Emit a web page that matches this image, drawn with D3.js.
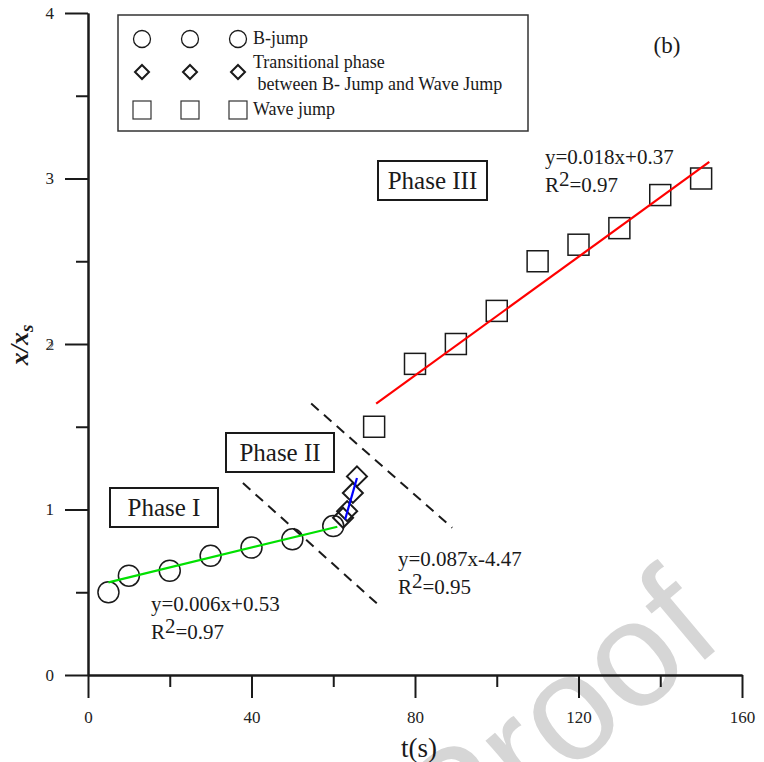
<!DOCTYPE html>
<html>
<head>
<meta charset="utf-8">
<script src="https://cdn.jsdelivr.net/npm/d3@7"></script>
<style>
  body { margin: 0; padding: 0; background: #fff; }
  svg { display: block; font-family: 'Liberation Serif', 'Times New Roman', serif; }
</style>
</head>
<body>
<div id="main"></div>
<script>
// data
const bJumpT = [5, 10, 20, 30, 40, 50, 60];
const bJumpX = [0.50, 0.60, 0.63, 0.72, 0.77, 0.82, 0.90];
const transT = [62.4, 63.4, 64.8, 65.8];
const transX = [0.95, 0.99, 1.10, 1.20];
const waveT = [70, 80, 90, 100, 110, 120, 130, 140, 150];
const waveX = [1.50, 1.88, 2.00, 2.20, 2.50, 2.60, 2.70, 2.90, 3.00];

// fitted lines and phase dividers, as [t, x/xs] end points
const fitB = [[5, 0.56], [61, 0.896]];
const fitTrans = [[62.9, 0.94], [65.8, 1.19]];
const fitWave = [[70.5, 1.64], [152, 3.10]];
const divider1 = [[37.9, 1.16], [71.9, 0.405]];
const divider2 = [[54.6, 1.64], [89.1, 0.89]];

const xMajorTicks = [0, 40, 80, 120, 160];
const xMinorTicks = [20, 60, 100, 140];
const yMajorTicks = [0, 1, 2, 3, 4];
const yMinorTicks = [0.5, 1.5, 2.5, 3.5];

const WIDTH = 764, HEIGHT = 762;
const INK = '#1a1a1a';

const svg = d3.select('#main').append('svg').attr('width', WIDTH).attr('height', HEIGHT);

// watermark behind everything
svg.append('text')
    .attr('transform', 'translate(452,872) rotate(-40)')
    .attr('font-family', "'Liberation Sans', Arial, sans-serif")
    .attr('font-size', 150)
    .attr('fill', '#d6d6d6')
    .text('Proof');

const scaleX = d3.scaleLinear().domain([0, 160]).range([88, 742]);
const scaleY = d3.scaleLinear().domain([0, 4]).range([675, 13]);

const styleAxis = (g) => {
    g.select('.domain').attr('stroke', INK).attr('stroke-width', 2);
    g.selectAll('.tick line').attr('stroke', INK).attr('stroke-width', 2);
    g.selectAll('.tick text').attr('fill', '#222').attr('font-size', 17).attr('font-family', "'Liberation Serif', serif");
};

// minor ticks first, then major with labels
svg.append('g').attr('transform', `translate(0,${scaleY(0)})`)
    .call(d3.axisBottom(scaleX).tickValues(xMinorTicks).tickSize(12).tickSizeOuter(0).tickFormat(''))
    .call(styleAxis);
svg.append('g').attr('transform', `translate(0,${scaleY(0)})`)
    .call(d3.axisBottom(scaleX).tickValues(xMajorTicks).tickSize(23).tickSizeOuter(0).tickPadding(13).tickFormat(d3.format('d')))
    .call(styleAxis);
svg.append('g').attr('transform', `translate(${scaleX(0)},0)`)
    .call(d3.axisLeft(scaleY).tickValues(yMinorTicks).tickSize(12).tickSizeOuter(0).tickFormat(''))
    .call(styleAxis);
svg.append('g').attr('transform', `translate(${scaleX(0)},0)`)
    .call(d3.axisLeft(scaleY).tickValues(yMajorTicks).tickSize(23).tickSizeOuter(0).tickPadding(11).tickFormat(d3.format('d')))
    .call(styleAxis);

// axis titles
svg.append('text')
    .attr('x', 419).attr('y', 757)
    .attr('text-anchor', 'middle')
    .attr('font-size', 27)
    .attr('fill', INK)
    .text('t(s)');

const yTitle = svg.append('text')
    .attr('transform', 'translate(28,345) rotate(-90)')
    .attr('text-anchor', 'middle')
    .attr('font-size', 26)
    .attr('font-weight', 'bold')
    .attr('font-style', 'italic')
    .attr('fill', INK);
yTitle.append('tspan').text('x/x');
yTitle.append('tspan').attr('font-size', 19).attr('dy', 5).text('s');
svg.append('text').attr('x', 51).attr('y', 350).attr('text-anchor', 'middle')
    .attr('font-size', 12).attr('fill', '#444').text('2');

// phase dividers
const line = d3.line().x((d) => scaleX(d[0])).y((d) => scaleY(d[1]));
[divider1, divider2].forEach((d) => {
    svg.append('path').attr('d', line(d)).attr('fill', 'none')
        .attr('stroke', INK).attr('stroke-width', 2).attr('stroke-dasharray', '10,7');
});

// markers
const diamond = (r) => `M0,${-r}L${r},0L0,${r}L${-r},0Z`;
const markers = svg.append('g').attr('fill', 'none').attr('stroke', INK);

markers.selectAll('circle.b').data(bJumpT).enter().append('circle')
    .attr('cx', (d) => scaleX(d))
    .attr('cy', (d, i) => scaleY(bJumpX[i]))
    .attr('r', 10.5)
    .attr('stroke-width', 1.5);

markers.selectAll('rect.w').data(waveT).enter().append('rect')
    .attr('x', (d) => scaleX(d) - 10.5)
    .attr('y', (d, i) => scaleY(waveX[i]) - 10.5)
    .attr('width', 21).attr('height', 21)
    .attr('stroke-width', 1.5);

markers.selectAll('path.t').data(transT).enter().append('path')
    .attr('transform', (d, i) => `translate(${scaleX(d)},${scaleY(transX[i])})`)
    .attr('d', diamond(10))
    .attr('stroke-width', 2);

// fitted lines
[[fitB, '#00e000'], [fitTrans, '#0000ff'], [fitWave, '#ff0000']].forEach(([d, c]) => {
    svg.append('path').attr('d', line(d)).attr('fill', 'none').attr('stroke', c).attr('stroke-width', 2.2);
});

// fit equations
const equation = (x, y, eq, r2) => {
    svg.append('text').attr('x', x).attr('y', y).attr('font-size', 21).attr('fill', INK).text(eq);
    const t = svg.append('text').attr('x', x).attr('y', y + 28).attr('font-size', 21).attr('fill', INK);
    t.append('tspan').text('R');
    t.append('tspan').attr('dy', -6).text('2');
    t.append('tspan').attr('dy', 6).text(r2);
};
equation(545, 164, 'y=0.018x+0.37', '=0.97');
equation(398, 566, 'y=0.087x-4.47', '=0.95');
equation(151, 611, 'y=0.006x+0.53', '=0.97');

// phase labels
const phaseBox = (x, y, w, h, label) => {
    svg.append('rect').attr('x', x).attr('y', y).attr('width', w).attr('height', h)
        .attr('fill', '#fff').attr('stroke', INK).attr('stroke-width', 2);
    svg.append('text').attr('x', x + w / 2).attr('y', y + h / 2 + 8)
        .attr('text-anchor', 'middle').attr('font-size', 25).attr('fill', INK).text(label);
};
phaseBox(110, 488, 108, 39, 'Phase I');
phaseBox(226, 433, 108, 39, 'Phase II');
phaseBox(378, 161, 109, 39, 'Phase III');

svg.append('text').attr('x', 667).attr('y', 53).attr('text-anchor', 'middle')
    .attr('font-size', 23).attr('fill', INK).text('(b)');

// legend
const legend = svg.append('g');
legend.append('rect').attr('x', 118).attr('y', 15).attr('width', 410).attr('height', 116)
    .attr('fill', '#fff').attr('stroke', '#333').attr('stroke-width', 1.5);
const legendX = [142, 190, 238];
legend.selectAll('circle').data(legendX).enter().append('circle')
    .attr('cx', (d) => d).attr('cy', 39).attr('r', 8.5)
    .attr('fill', 'none').attr('stroke', INK).attr('stroke-width', 1.3);
legend.selectAll('path').data(legendX).enter().append('path')
    .attr('transform', (d) => `translate(${d},72)`).attr('d', diamond(7))
    .attr('fill', 'none').attr('stroke', INK).attr('stroke-width', 2);
legend.selectAll('rect.s').data(legendX).enter().append('rect')
    .attr('x', (d) => d - 9).attr('y', 101).attr('width', 18).attr('height', 18)
    .attr('fill', 'none').attr('stroke', '#333').attr('stroke-width', 1.2);
const legendText = (x, y, s) => legend.append('text').attr('x', x).attr('y', y)
    .attr('font-size', 18).attr('fill', INK).style('white-space', 'pre').text(s);
legendText(253, 44, 'B-jump');
legendText(253, 68, 'Transitional phase');
legendText(253, 90, ' between B- Jump and Wave Jump');
legendText(253, 115, 'Wave jump');
</script>
</body>
</html>
